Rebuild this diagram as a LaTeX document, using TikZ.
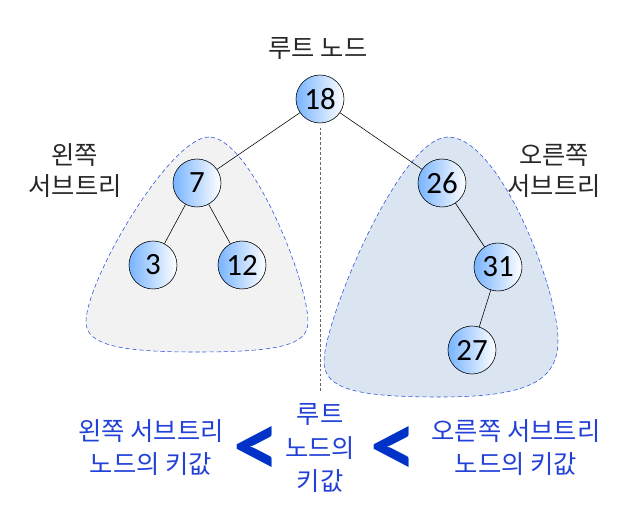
\documentclass[tikz,border=0pt]{standalone}
\usepackage{fontspec}
\setmainfont{Carlito}
\newfontfamily\krfont{Noto Sans CJK KR}
\usetikzlibrary{positioning}
\definecolor{keyblue}{RGB}{120,180,255}
\definecolor{subgray}{RGB}{242,242,242}
\definecolor{subblue}{RGB}{219,229,241}
\definecolor{borderblue}{RGB}{40,80,220}
\definecolor{labelblue}{RGB}{35,65,215}
\definecolor{signblue}{RGB}{0,50,200}
\definecolor{textgray}{RGB}{40,40,40}
\tikzset{
  keynode/.style={circle, draw, thin, minimum size=1.2cm, inner sep=0pt, left color=keyblue, right color=white, font=\fontsize{22}{24}\selectfont},
  subtree/.style={draw=borderblue, dash pattern=on 3pt off 2pt, thin},
  edge/.style={draw, thin},
  krlabel/.style={font=\krfont\fontsize{18}{22}\selectfont, align=center, text=textgray},
  cmplabel/.style={font=\krfont\fontsize{18}{23.5}\selectfont, align=center, text=labelblue},
  ltsign/.style={font=\fontsize{66}{66}\selectfont\bfseries, text=signblue, inner sep=0pt},
}

\begin{document}
\begin{tikzpicture}[x=0.025cm, y=-0.025cm]
  \useasboundingbox (0,0) rectangle (640,513);

  % Subtree regions
  \path[subtree, fill=subgray] (209,137) .. controls (170,137) and (86,280) .. (86,322)
    .. controls (86,345) and (120,352) .. (196,352)
    .. controls (280,352) and (308,345) .. (308,322)
    .. controls (308,280) and (250,137) .. (209,137) -- cycle;
  \path[subtree, fill=subblue] (448,137) .. controls (400,137) and (324,320) .. (324,362)
    .. controls (324,390) and (360,397) .. (440,397)
    .. controls (530,397) and (558,380) .. (558,340)
    .. controls (558,290) and (500,137) .. (448,137) -- cycle;

  % Keys
  \node[keynode] (n18) at (320,99) {18};
  \node[keynode] (n7) at (197,183) {7};
  \node[keynode] (n3) at (153,265) {3};
  \node[keynode] (n12) at (242,265) {12};
  \node[keynode] (n26) at (442,183) {26};
  \node[keynode] (n31) at (498,267) {31};
  \node[keynode] (n27) at (472,350) {27};

  % Links
  \draw[edge] (n18) -- (n7);
  \draw[edge] (n18) -- (n26);
  \draw[edge] (n7) -- (n3);
  \draw[edge] (n7) -- (n12);
  \draw[edge] (n26) -- (n31);
  \draw[edge] (n31) -- (n27);

  % Divider
  \coordinate (divend) at (320,392);
  \draw[gray!80!black, dash pattern=on 2pt off 1.5pt, thin, shorten <=3pt] (n18.south) -- (divend);

  % Labels
  \node[krlabel] (rootlbl) at (318,48) {루트 노드};
  \node[krlabel] (leftlbl) at (75,171) {왼쪽\\서브트리};
  \node[krlabel] (rightlbl) at (554,171) {오른쪽\\서브트리};

  % Key order
  \node[cmplabel] (leftkey) at (151,448) {왼쪽 서브트리\\노드의 키값};
  \node[ltsign] (lt1) at (257,451) {<};
  \node[cmplabel] (rootkey) at (320,448) {루트\\노드의\\키값};
  \node[ltsign] (lt2) at (394,451) {<};
  \node[cmplabel] (rightkey) at (516,448) {오른쪽 서브트리\\노드의 키값};
\end{tikzpicture}
\end{document}
